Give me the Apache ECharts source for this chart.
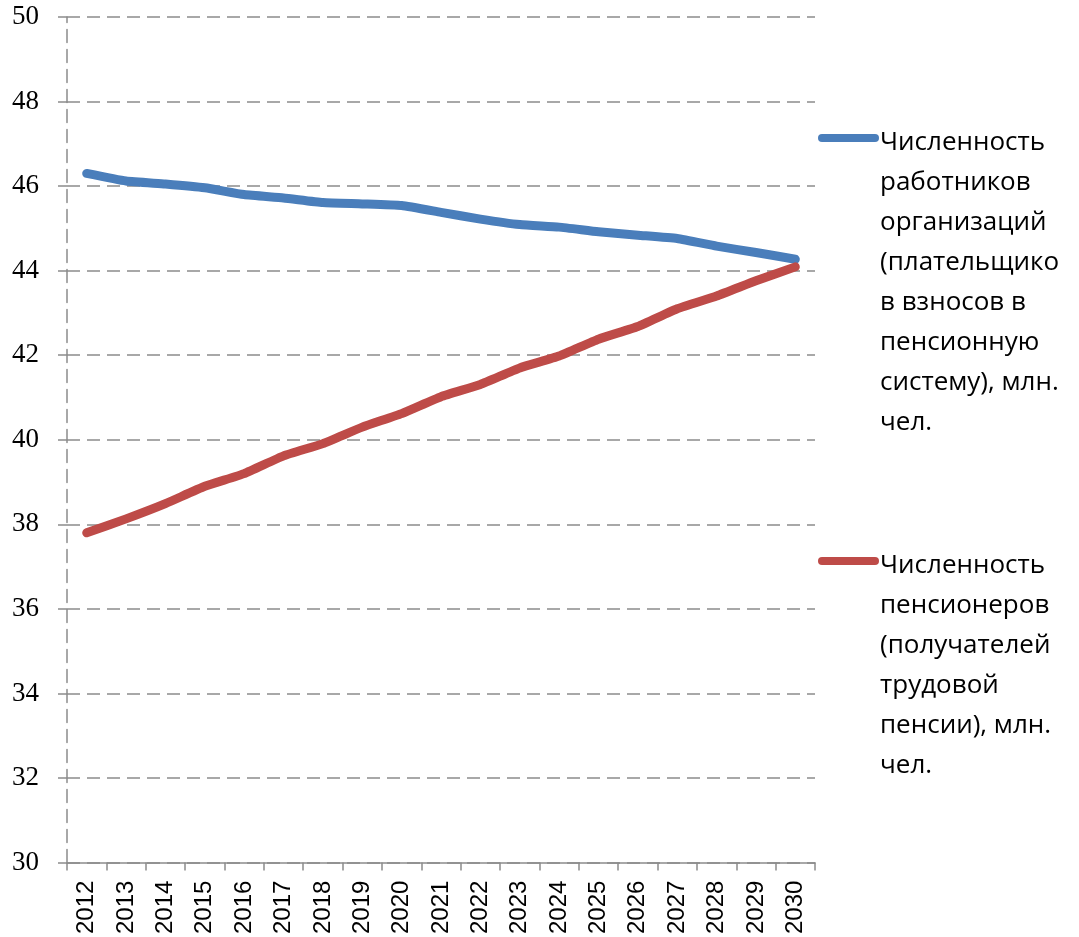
<!DOCTYPE html>
<html>
<head>
<meta charset="utf-8">
<script src="https://cdn.jsdelivr.net/npm/echarts@6/dist/echarts.min.js"></script>
<style>
    html, body { margin: 0; padding: 0; background: #fff; }
    #chart { width: 1079px; height: 937px; }
</style>
</head>
<body>
<div id="chart"></div>
<script>
    var years = ['2012','2013','2014','2015','2016','2017','2018','2019','2020','2021',
                 '2022','2023','2024','2025','2026','2027','2028','2029','2030'];
    // Численность работников организаций, млн. чел.
    var workers = [46.3, 46.12, 46.05, 45.96, 45.8, 45.72, 45.61, 45.58, 45.54, 45.38,
                   45.22, 45.09, 45.03, 44.92, 44.84, 44.76, 44.58, 44.43, 44.27];
    // Численность пенсионеров, млн. чел.
    var pensioners = [37.8, 38.13, 38.49, 38.9, 39.2, 39.62, 39.91, 40.3, 40.62, 41.02,
                      41.31, 41.7, 41.98, 42.38, 42.68, 43.1, 43.4, 43.76, 44.09];
    var yTicks = { min: 30, max: 50, step: 2 };
    var seriesNames = [
        'Численность\nработников\nорганизаций\n(плательщико\nв взносов в\nпенсионную\nсистему), млн.\nчел.',
        'Численность\nпенсионеров\n(получателей\nтрудовой\nпенсии), млн.\nчел.'
    ];
    var colors = ['#4a7ebb', '#be4b48'];

    var myChart = echarts.init(document.getElementById('chart'));
    var gridColor = '#8c8c8c';

    function legendItem(idx, top) {
        return {
            type: 'group',
            children: [
                {
                    type: 'line',
                    shape: { x1: 822, y1: top, x2: 875, y2: top },
                    style: { stroke: colors[idx], lineWidth: 8, lineCap: 'round' }
                },
                {
                    type: 'text',
                    style: {
                        x: 880,
                        y: top - 15,
                        text: seriesNames[idx],
                        font: '26px "Open Sans"',
                        lineHeight: 40,
                        fill: '#000',
                        verticalAlign: 'top'
                    }
                }
            ]
        };
    }

    var option = {
        animation: false,
        color: colors,
        grid: {
            left: 67,
            right: 264,
            top: 17,
            bottom: 73,
            containLabel: false
        },
        xAxis: {
            type: 'category',
            data: years,
            boundaryGap: true,
            axisLine: { lineStyle: { color: gridColor, width: 1.5 } },
            axisTick: { show: true, interval: 0, length: 8, lineStyle: { color: gridColor, width: 1.5 } },
            axisLabel: {
                interval: 0,
                rotate: 90,
                margin: 18,
                color: '#000',
                fontFamily: 'Liberation Sans',
                fontSize: 24
            },
            splitLine: { show: false }
        },
        yAxis: {
            type: 'value',
            min: yTicks.min,
            max: yTicks.max,
            interval: yTicks.step,
            axisLine: { show: true, lineStyle: { color: gridColor, width: 1.5, type: [13, 7] } },
            axisTick: { show: true, length: 9, lineStyle: { color: gridColor, width: 1.5 } },
            axisLabel: {
                margin: 28,
                textStyle: {
                    color: '#000',
                    fontFamily: 'Liberation Serif',
                    fontSize: 27
                }
            },
            splitLine: { lineStyle: { color: gridColor, width: 1.5, type: [13, 7] } }
        },
        series: [
            {
                name: seriesNames[0],
                type: 'line',
                data: workers,
                showSymbol: false,
                smooth: 0.15,
                lineStyle: { width: 9, color: colors[0], cap: 'round', join: 'round' }
            },
            {
                name: seriesNames[1],
                type: 'line',
                data: pensioners,
                showSymbol: false,
                smooth: 0.15,
                lineStyle: { width: 9, color: colors[1], cap: 'round', join: 'round' }
            }
        ],
        graphic: [legendItem(0, 138), legendItem(1, 561)]
    };
    myChart.setOption(option);
</script>
</body>
</html>
